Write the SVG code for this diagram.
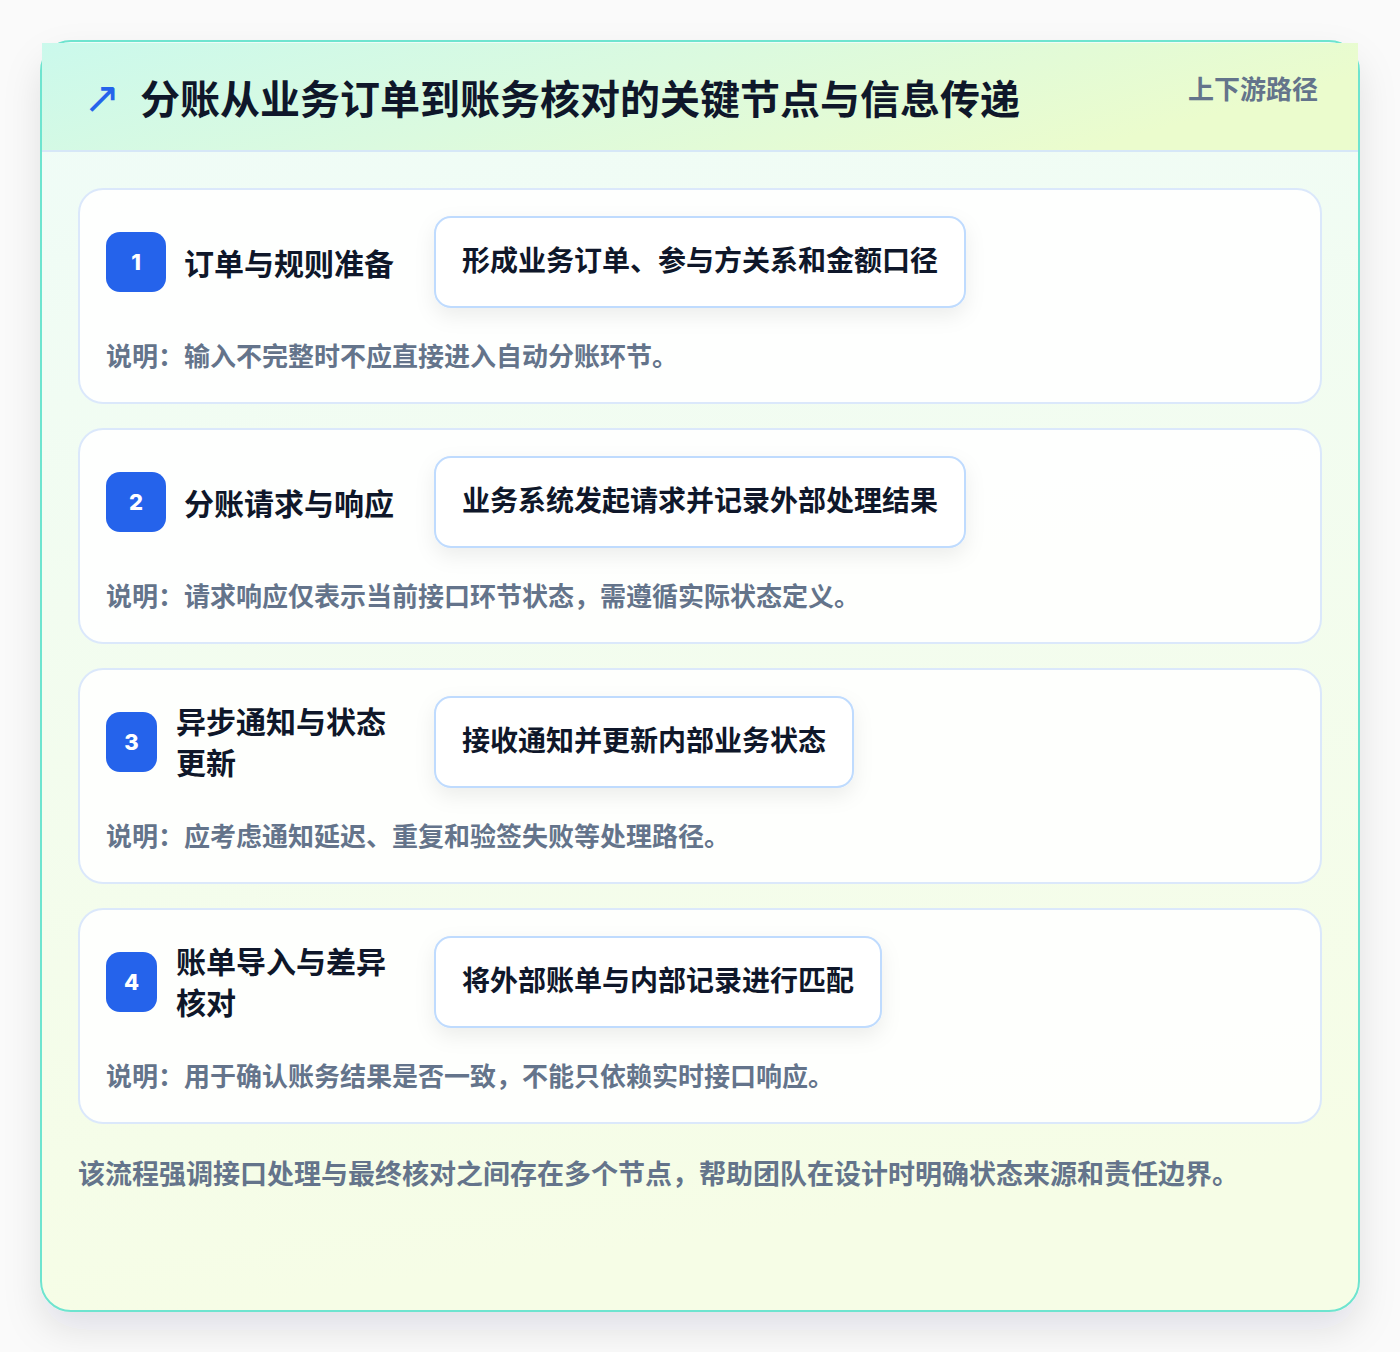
<svg xmlns="http://www.w3.org/2000/svg" width="1400" height="1352" viewBox="0 0 1400 1352">
  <defs>
    <linearGradient id="hdr" x1="0" y1="0" x2="1" y2="0.3">
      <stop offset="0" stop-color="#cbf9ec"/>
      <stop offset="0.5" stop-color="#dbfadf"/>
      <stop offset="1" stop-color="#ebfccd"/>
    </linearGradient>
    <linearGradient id="body" x1="0" y1="0" x2="0.15" y2="1">
      <stop offset="0" stop-color="#effcf8"/>
      <stop offset="1" stop-color="#f6fde6"/>
    </linearGradient>
    <filter id="outerShadow" x="-10%" y="-10%" width="120%" height="125%">
      <feDropShadow dx="0" dy="18" stdDeviation="18" flood-color="#0f172a" flood-opacity="0.10"/>
    </filter>
    <filter id="boxShadow" x="-20%" y="-40%" width="140%" height="190%">
      <feDropShadow dx="0" dy="8" stdDeviation="10" flood-color="#0f172a" flood-opacity="0.07"/>
    </filter>
    <style>
      text { font-family: "Noto Sans CJK SC", "Noto Sans", sans-serif; font-weight: 700; }
      .card { fill: #ffffff; fill-opacity: 0.88; stroke: #dbe8fb; stroke-width: 2; }
      .badge { fill: #2563eb; }
      .num { fill: #ffffff; font-size: 22px; font-family: "Inter", "Noto Sans", sans-serif; font-weight: 800; }
      .title { fill: #0f172a; font-size: 30px; }
      .box { fill: #ffffff; stroke: #bfdbfe; stroke-width: 2; }
      .boxtext { fill: #0f172a; font-size: 28px; }
      .desc { fill: #64748b; font-size: 26px; }
    </style>
  </defs>

  <rect x="0" y="0" width="1400" height="1352" fill="#fafafa"/>

  <g id="container">
    <rect x="41" y="41" width="1318" height="1270" rx="30" fill="url(#body)" stroke="#6ee4cf" stroke-width="2" filter="url(#outerShadow)"/>
    <rect x="42" y="43" width="1316" height="108" fill="url(#hdr)"/>
    <line x1="42" y1="151" x2="1358" y2="151" stroke="#d6e7f7" stroke-width="2"/>
  </g>

  <g id="header">
    <text x="83.5" y="113" font-size="44" fill="#2563eb" style="font-family:'DejaVu Sans',sans-serif;font-weight:400">↗</text>
    <text x="140" y="114" font-size="40" fill="#0f172a">分账从业务订单到账务核对的关键节点与信息传递</text>
    <text x="1188" y="99" font-size="26" fill="#64748b">上下游路径</text>
  </g>

  <g id="step1">
    <rect class="card" x="79" y="189" width="1242" height="214" rx="24"/>
    <rect class="badge" x="106" y="232" width="60" height="60" rx="14"/>
    <text class="num" x="136" y="270" text-anchor="middle">1</text>
    <text class="title" x="184" y="275">订单与规则准备</text>
    <rect class="box" x="435" y="217" width="530" height="90" rx="16" filter="url(#boxShadow)"/>
    <text class="boxtext" x="462" y="271">形成业务订单、参与方关系和金额口径</text>
    <text class="desc" x="106" y="366">说明：输入不完整时不应直接进入自动分账环节。</text>
  </g>

  <g id="step2">
    <rect class="card" x="79" y="429" width="1242" height="214" rx="24"/>
    <rect class="badge" x="106" y="472" width="60" height="60" rx="14"/>
    <text class="num" x="136" y="510" text-anchor="middle">2</text>
    <text class="title" x="184" y="515">分账请求与响应</text>
    <rect class="box" x="435" y="457" width="530" height="90" rx="16" filter="url(#boxShadow)"/>
    <text class="boxtext" x="462" y="511">业务系统发起请求并记录外部处理结果</text>
    <text class="desc" x="106" y="606">说明：请求响应仅表示当前接口环节状态，需遵循实际状态定义。</text>
  </g>

  <g id="step3">
    <rect class="card" x="79" y="669" width="1242" height="214" rx="24"/>
    <rect class="badge" x="106" y="712" width="51" height="60" rx="14"/>
    <text class="num" x="131.5" y="750" text-anchor="middle">3</text>
    <text class="title" x="176" y="733">异步通知与状态</text>
    <text class="title" x="176" y="774">更新</text>
    <rect class="box" x="435" y="697" width="418" height="90" rx="16" filter="url(#boxShadow)"/>
    <text class="boxtext" x="462" y="751">接收通知并更新内部业务状态</text>
    <text class="desc" x="106" y="846">说明：应考虑通知延迟、重复和验签失败等处理路径。</text>
  </g>

  <g id="step4">
    <rect class="card" x="79" y="909" width="1242" height="214" rx="24"/>
    <rect class="badge" x="106" y="952" width="51" height="60" rx="14"/>
    <text class="num" x="131.5" y="990" text-anchor="middle">4</text>
    <text class="title" x="176" y="973">账单导入与差异</text>
    <text class="title" x="176" y="1014">核对</text>
    <rect class="box" x="435" y="937" width="446" height="90" rx="16" filter="url(#boxShadow)"/>
    <text class="boxtext" x="462" y="991">将外部账单与内部记录进行匹配</text>
    <text class="desc" x="106" y="1086">说明：用于确认账务结果是否一致，不能只依赖实时接口响应。</text>
  </g>

  <g id="connectors"></g>

  <g id="footer">
    <text x="78" y="1184" font-size="27" fill="#64748b">该流程强调接口处理与最终核对之间存在多个节点，帮助团队在设计时明确状态来源和责任边界。</text>
  </g>
</svg>
